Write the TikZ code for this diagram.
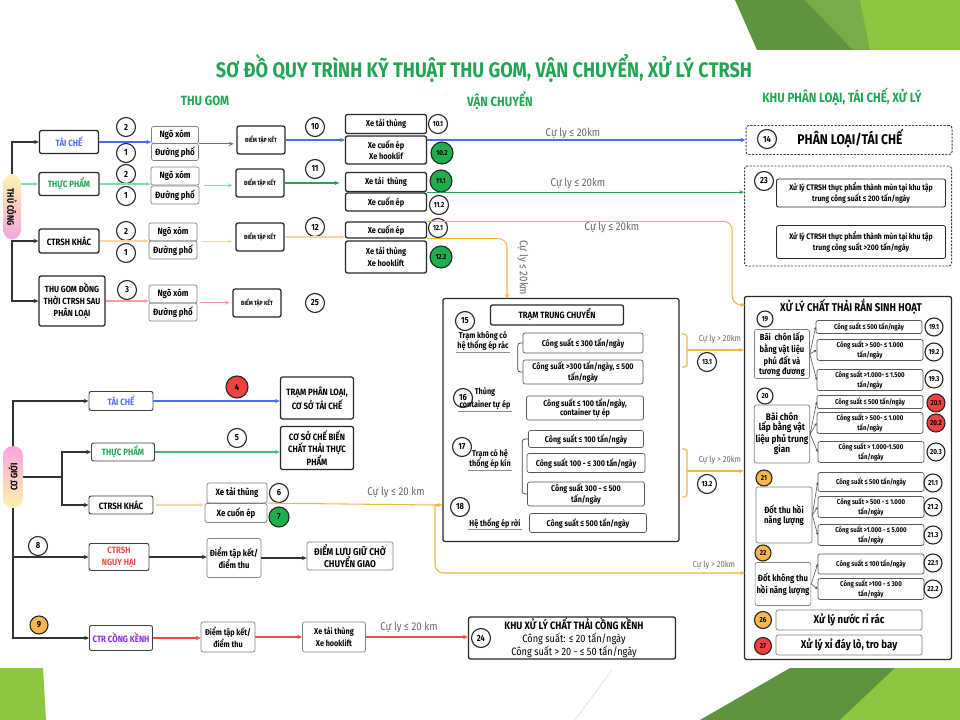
\documentclass[tikz,border=0pt]{standalone}
\usepackage{fontspec}
\setmainfont{Fira Sans}[FakeStretch=0.86]
\usetikzlibrary{arrows.meta}

% colours
\definecolor{titlegreen}{HTML}{22A552}
\definecolor{cblue}{HTML}{4F6BEE}
\definecolor{cmint}{HTML}{7EE2B0}
\definecolor{cgreen}{HTML}{23A452}
\definecolor{clor}{HTML}{F8D4A8}
\definecolor{corange}{HTML}{F6B541}
\definecolor{cpink}{HTML}{F2A2A2}
\definecolor{cred}{HTML}{EF4B4B}
\definecolor{fgreen}{HTML}{1DAE4D}
\definecolor{fred}{HTML}{EE4141}
\definecolor{forange}{HTML}{F8B74C}
\definecolor{cpurple}{HTML}{8A2BE2}
\definecolor{pillP}{HTML}{F7A5DE}
\definecolor{pillY}{HTML}{FFF2AE}
\definecolor{leafD}{HTML}{5E9440}
\definecolor{leafM}{HTML}{79AC48}
\definecolor{leafL}{HTML}{8DC63F}

\tikzset{
  box/.style={draw=black!85, line width=0.9pt, rounded corners=1.5pt, align=center,
    inner sep=1pt, font=\bfseries\fontsize{6.5}{7.6}\selectfont},
  sbox/.style={box, draw=black!50, line width=0.5pt},
  dbox/.style={draw=black!75, line width=0.7pt, dash pattern=on 1.5pt off 1pt,
    rounded corners=2pt},
  wd/.style={minimum width=#1*0.025cm},
  ht/.style={minimum height=#1*0.025cm},
  num/.style={circle, draw=black!85, line width=0.8pt, minimum size=#1*0.025cm,
    inner sep=0pt, font=\bfseries\fontsize{6.3}{7}\selectfont},
  num/.default=19,
  gnum/.style={num=#1, fill=fgreen},
  gnum/.default=22,
  rnum/.style={num=#1, fill=fred},
  rnum/.default=20,
  onum/.style={num=#1, fill=forange},
  onum/.default=18,
  dec/.style={font=\bfseries\fontsize{5.2}{6}\selectfont},
  tk/.style={box, wd=48, ht=28, font=\bfseries\fontsize{4.3}{5}\selectfont},
  vbox/.style={box, wd=81, font=\bfseries\fontsize{6.1}{8}\selectfont},
  csb/.style={sbox, draw=black!65, font=\bfseries\fontsize{5.9}{6.8}\selectfont},
  xsb/.style={sbox, draw=black!65, wd=106, font=\bfseries\fontsize{5}{5.6}\selectfont},
  txt/.style={align=center, inner sep=1pt, font=\bfseries\fontsize{6}{7.4}\selectfont},
  hdr/.style={text=titlegreen, font=\bfseries\fontsize{9.5}{10}\selectfont},
  lbl/.style={inner sep=0pt, text=black!60, font=\fontsize{8}{9}\selectfont},
  slbl/.style={lbl, font=\fontsize{6.2}{7}\selectfont},
  pill/.style={rounded corners=7pt, inner sep=0pt, font=\bfseries\fontsize{6.6}{7}\selectfont},
  ln/.style={line width=0.75pt},
  arr/.style={ln, -{Stealth[length=3.4pt, width=3pt]}},
  dk/.style={draw=black!80},
  ul/.style={draw=black!45, line width=0.5pt},
  fan/.style={draw=black!70, line width=0.4pt, -{Stealth[length=2pt, width=1.8pt]}},
  brk/.style={draw=black!75, line width=0.5pt, rounded corners=2pt},
}

\begin{document}
\begin{tikzpicture}[x=0.025cm, y=-0.025cm]
\useasboundingbox (0,0) rectangle (960,720);

% slide decoration
\fill[leafD] (735,0) -- (960,0) -- (960,50) -- (757,50) -- cycle;
\fill[leafM] (805,0) -- (960,0) -- (960,50) -- (853,50) -- cycle;
\fill[leafL] (860,0) -- (960,0) -- (960,50) -- (870,50) -- cycle;
\fill[leafL] (0,668) -- (43,668) -- (46,720) -- (0,720) -- cycle;
\fill[leafD] (700,720) -- (790,668) -- (960,668) -- (960,720) -- cycle;
\fill[leafL] (840,720) -- (895,668) -- (960,668) -- (960,720) -- cycle;
\draw[black!15, line width=0.4pt] (575,720) -- (612,670);

% headings
\node[text=titlegreen, font=\bfseries\fontsize{15}{16}\selectfont] (title) at (484,68)
  {SƠ ĐỒ QUY TRÌNH KỸ THUẬT THU GOM, VẬN CHUYỂN, XỬ LÝ CTRSH};
\node[hdr] (hThu) at (205,101) {THU GOM};
\node[hdr] (hVan) at (500,101) {VẬN CHUYỂN};
\node[hdr] (hKhu) at (842,97) {KHU PHÂN LOẠI, TÁI CHẾ, XỬ LÝ};

% thu cong
\node[pill, wd=18, ht=65, top color=pillY, bottom color=pillP] (tc) at (12,207) {\rotatebox{-90}{THỦ CÔNG}};
\node[box, wd=59, ht=23, text=cblue] (tc1) at (69,142) {TÁI CHẾ};
\node[box, wd=60, ht=23, text=cgreen] (tc2) at (69,184) {THỰC PHẨM};
\node[box, wd=60, ht=24] (tc3) at (69,241) {CTRSH KHÁC};
\node[box, wd=66, ht=50, font=\bfseries\fontsize{6.3}{8.4}\selectfont] (tc4) at (72,301) {THU GOM ĐỒNG\\THỜI CTRSH SAU\\PHÂN LOẠI};

\node[num] (n1a) at (126,127) {2};
\node[num] (n1b) at (126,153) {1};
\node[num] (n2a) at (126,174) {2};
\node[num] (n2b) at (126,196) {1};
\node[num] (n3a) at (126,231) {2};
\node[num] (n3b) at (126,253) {1};
\node[num] (n4a) at (127,290) {3};

\node[sbox, wd=47, ht=17] (nx1a) at (175,135) {Ngõ xóm};
\node[sbox, wd=47, ht=17] (nx1b) at (175,152) {Đường phố};
\node[sbox, wd=48, ht=18] (nx2a) at (175,176) {Ngõ xóm};
\node[sbox, wd=48, ht=18] (nx2b) at (175,195) {Đường phố};
\node[sbox, wd=48, ht=18] (nx3a) at (173,232) {Ngõ xóm};
\node[sbox, wd=48, ht=18] (nx3b) at (173,250) {Đường phố};
\node[sbox, wd=48, ht=18] (nx4a) at (173,294) {Ngõ xóm};
\node[sbox, wd=48, ht=18] (nx4b) at (173,312) {Đường phố};

\node[tk] (dk1) at (261,140) {ĐIỂM TẬP KẾT};
\node[tk] (dk2) at (260,183) {ĐIỂM TẬP KẾT};
\node[tk] (dk3) at (260,237) {ĐIỂM TẬP KẾT};
\node[tk] (dk4) at (257,303) {ĐIỂM TẬP KẾT};

\node[num] (n10) at (315,127) {10};
\node[num] (n11) at (315,169) {11};
\node[num] (n12) at (315,227) {12};
\node[num] (n25) at (315,303) {25};

\draw[dk, arr] (tc.north) |- (tc1.west);
\draw[cmint, arr] (tc.east |- tc2.west) -- (tc2.west);
\draw[dk, arr] (tc.south) |- (tc3.west);
\draw[dk, arr] (tc.south) |- (tc4.west);
\draw[cblue, arr] (tc1.east) -- (tc1.east -| nx1a.west);
\draw[cmint, arr] (tc2.east) -- (tc2.east -| nx2a.west);
\draw[clor, arr] (tc3.east) -- (tc3.east -| nx3a.west);
\draw[cpink, arr] (tc4.east) -- (tc4.east -| nx4a.west);
\draw[cblue, arr, shorten >=2pt] (nx1a.south east) -- (nx1a.south east -| dk1.west);
\draw[cmint, arr, shorten <=3pt, shorten >=2pt] (nx2a.south east) -- (nx2a.south east -| dk2.west);
\draw[clor, arr, shorten <=3pt, shorten >=2pt] (nx3a.south east) -- (nx3a.south east -| dk3.west);
\draw[cpink, arr, shorten <=2pt, shorten >=2pt] (nx4b.north east) -- (nx4b.north east -| dk4.west);

% van chuyen
\node[vbox, ht=19] (v101) at (386,124) {Xe tải thùng};
\node[vbox, ht=28] (v102) at (386,150) {Xe cuốn ép\\Xe hooklif};
\node[vbox, ht=19] (v111) at (386,182) {Xe tải~ thùng};
\node[vbox, ht=18] (v112) at (386,202) {Xe cuốn ép};
\node[vbox, ht=16] (v121) at (386,230) {Xe cuốn ép};
\node[vbox, ht=32] (v122) at (386,257) {Xe tải thùng\\Xe hooklift};

\node[num, dec] (c101) at (438,124) {10.1};
\node[gnum, dec] (c102) at (442,153) {10.2};
\node[gnum, dec] (c111) at (441,181) {11.1};
\node[num, dec] (c112) at (439,205) {11.2};
\node[num, dec] (c121) at (438,228) {12.1};
\node[gnum, dec] (c122) at (441,257) {12.2};

\draw[cblue, arr] (dk1.east) -- (dk1.east -| v102.west);
\draw[cgreen, arr, shorten >=4pt] (dk2.east) -- (dk2.east -| v111.west);
\draw[clor, arr] (dk3.east) -- (dk3.east -| v122.west);

% phan loai / tai che
\node[dbox, wd=206, ht=29] (p14) at (849,140) {};
\node[num] (c14) at (767,139) {14};
\node[font=\bfseries\fontsize{10}{11}\selectfont] (t14) at (850,139) {PHÂN LOẠI/TÁI CHẾ};
\node[dbox, wd=207, ht=100] (p23) at (848,216) {};
\node[num] (c23) at (764,181) {23};
\node[box, line width=0.6pt, wd=169, ht=28, font=\bfseries\fontsize{5.7}{8}\selectfont] (f1) at (861,193)
  {Xử lý CTRSH thực phẩm thành mùn tại khu tập\\trung công suất ≤ 200 tấn/ngày};
\node[box, line width=0.6pt, wd=169, ht=33, font=\bfseries\fontsize{5.7}{8}\selectfont] (f2) at (861,242)
  {Xử lý CTRSH thực phẩm thành mùn tại khu tập\\trung công suất >200 tấn/ngày};

% tram trung chuyen
\node[box, wd=236, ht=243] (tr) at (561,420) {};
\coordinate (trIn) at (507,299);
\node[box, wd=133, ht=20] (trT) at (557,315) {TRẠM TRUNG CHUYỂN};
\node[num] (c15) at (465,321) {15};
\node[txt] (t15) at (483,341) {Trạm không có\\hệ thống ép rác};
\node[csb, wd=120, ht=20] (s1) at (583,343) {Công suất ≤ 300 tấn/ngày};
\node[csb, wd=120, ht=24] (s2) at (583,372) {Công suất >300 tấn/ngày, ≤ 500\\tấn/ngày};
\node[num] (c16) at (463,398) {16};
\node[txt] (t16a) at (485,392) {Thùng};
\node[txt] (t16b) at (485,405) {container tự ép};
\node[csb, wd=117, ht=24] (s3) at (585,408) {Công suất ≤ 100 tấn/ngày,\\container tự ép};
\node[num] (c17) at (462,447) {17};
\node[txt] (t17) at (490,459) {Trạm có hệ\\thống ép kín};
\node[csb, wd=115, ht=17] (s4) at (586,439) {Công suất ≤ 100 tấn/ngày};
\node[csb, wd=118, ht=19] (s5) at (586,463) {Công suất 100 - ≤ 300 tấn/ngày};
\node[csb, wd=117, ht=24] (s6) at (586,494) {Công suất 300 - ≤ 500\\tấn/ngày};
\node[num] (c18) at (460,507) {18};
\node[txt] (t18) at (495,523) {Hệ thống ép rời};
\node[csb, wd=117, ht=19] (s7) at (588,523) {Công suất ≤ 500 tấn/ngày};

\draw[ul] (t15.south west) -- (t15.south east);
\draw[ul] (t16b.south west) -- (t16b.south east);
\draw[ul] (t17.south west) -- (t17.south east);
\draw[ul] (t18.south west) -- (t18.south east);
\draw[brk] (s1.west) -- ++(-5,0) |- (s2.west);
\draw[brk] (s4.west) -- ++(-6,0) |- (s6.west);

% xu ly chat thai ran sinh hoat
\node[box, wd=207, ht=363] (xl) at (848,478) {};
\node[font=\bfseries\fontsize{8}{9}\selectfont] (xlT) at (851,307) {XỬ LÝ CHẤT THẢI RẮN SINH HOẠT};

\node[num=16, dec] (c19) at (765,319) {19};
\node[sbox, wd=55, ht=49, font=\bfseries\fontsize{6.3}{6.8}\selectfont] (b19) at (782,354) {Bãi~ chôn lấp\\bằng vật liệu\\phủ đất và\\tương đương};
\node[xsb, ht=13] (x191) at (869,327) {Công suất ≤ 500 tấn/ngày};
\node[xsb, ht=19] (x192) at (870,350) {Công suất > 500- ≤ 1.000\\tấn/ngày};
\node[xsb, ht=21] (x193) at (870,380) {Công suất >1.000- ≤ 1.500\\tấn/ngày};
\node[num=18, dec] (c191) at (934,327) {19.1};
\node[num=18, dec] (c192) at (934,352) {19.2};
\node[num=18, dec] (c193) at (934,379) {19.3};

\node[num=16, dec] (c20) at (765,396) {20};
\node[sbox, wd=55, ht=58, font=\bfseries\fontsize{6.8}{7.2}\selectfont] (b20) at (782,434) {Bãi chôn\\lấp bằng vật\\liệu phủ trung\\gian};
\node[xsb, ht=13] (x201) at (870,402) {Công suất ≤ 500 tấn/ngày};
\node[xsb, ht=20] (x202) at (870,423) {Công suất > 500- ≤ 1.000\\tấn/ngày};
\node[xsb, ht=20] (x203) at (871,452) {Công suất > 1.000-1.500\\tấn/ngày};
\node[rnum=18, dec] (c201) at (936,403) {20.1};
\node[rnum=18, dec] (c202) at (936,423) {20.2};
\node[num=18, dec] (c203) at (936,452) {20.3};

\node[onum=16, dec] (c21) at (764,478) {21};
\node[sbox, wd=56, ht=56, font=\bfseries\fontsize{6.4}{7.4}\selectfont] (b21) at (784,515) {Đốt thu hồi\\năng lượng};
\node[xsb, ht=19] (x211) at (871,482) {Công suất ≤ 500 tấn/ngày};
\node[xsb, ht=20] (x212) at (871,507) {Công suất > 500 - ≤ 1.000\\tấn/ngày};
\node[xsb, ht=20] (x213) at (871,535) {Công suất >1.000 - ≤ 5.000\\tấn/ngày};
\node[num=18, dec] (c211) at (933,483) {21.1};
\node[num=18, dec] (c212) at (933,507) {21.2};
\node[num=18, dec] (c213) at (933,535) {21.3};

\node[onum=16, dec] (c22) at (763,553) {22};
\node[sbox, wd=55, ht=43, font=\bfseries\fontsize{6.4}{7.4}\selectfont] (b22) at (783,584) {Đốt không thu\\hồi năng lượng};
\node[xsb, ht=20] (x221) at (871,564) {Công suất ≤ 100 tấn/ngày};
\node[xsb, ht=20] (x222) at (871,589) {Công suất >100 - ≤ 300\\tấn/ngày};
\node[num=18, dec] (c221) at (933,563) {22.1};
\node[num=18, dec] (c222) at (933,589) {22.2};

\node[onum=17, dec] (c26) at (763,620) {26};
\node[sbox, wd=146, ht=20, font=\bfseries\fontsize{8}{9}\selectfont] (r26) at (849,620) {Xử lý nước rỉ rác};
\node[rnum=17, dec] (c27) at (763,646) {27};
\node[sbox, wd=146, ht=20, font=\bfseries\fontsize{8}{9}\selectfont] (r27) at (849,645) {Xử lý xỉ đáy lò, tro bay};

\foreach \s in {x191,x192,x193} \draw[fan] (b19.east) -- (\s.west);
\foreach \s in {x201,x202,x203} \draw[fan] (b20.east) -- (\s.west);
\foreach \s in {x211,x212,x213} \draw[fan] (b21.east) -- (\s.west);
\foreach \s in {x221,x222} \draw[fan] (b22.east) -- (\s.west);

% long transport lines
\draw[cblue, arr] (v102.east |- p14.west) -- (p14.west);
\node[lbl] (d1) at (573,133) {Cự ly ≤ 20km};
\draw[cgreen, arr] (v111.south east) -- (v111.south east -| p23.west);
\node[lbl] (d2) at (578,183) {Cự ly ≤ 20km};
\coordinate (xlIn1) at (745,305);
\draw[corange, arr, rounded corners=6pt] (v121.north east) -- ++(305,0) -- ++(0,83) -- (xlIn1);
\node[lbl] (d3) at (612,227) {Cự ly ≤ 20km};
\draw[corange, arr, rounded corners=6pt] (v121.south east) -| (trIn);
\node[lbl, rotate=-90] (d4) at (523,268) {Cự ly ≤ 20km};

\coordinate (br1) at (687,350);
\coordinate (br2) at (687,471);
\draw[corange, ln, rounded corners=2pt] (682,334) -- (687,334) -- (687,367) -- (682,367);
\draw[corange, ln, rounded corners=2pt] (682,449) -- (687,449) -- (687,497) -- (682,497);
\draw[corange, arr] (br1) -- (br1 -| xl.west);
\draw[corange, arr] (br2) -- (br2 -| xl.west);
\node[slbl] (d5) at (720,339) {Cự ly > 20km};
\node[slbl] (d6) at (720,460) {Cự ly > 20km};
\node[num, dec] (c131) at (707,362) {13.1};
\node[num, dec] (c132) at (707,484) {13.2};

% co gioi
\node[pill, wd=20, ht=62, top color=pillP, bottom color=pillY] (cg) at (13,477) {\rotatebox{90}{CƠ GIỚI}};
\node[box, draw=black!75, line width=0.7pt, wd=64, ht=19, text=cblue] (cg1) at (121,401) {TÁI CHẾ};
\node[box, draw=black!75, line width=0.7pt, wd=63, ht=18, text=cgreen] (cg2) at (123,452) {THỰC PHẨM};
\node[box, draw=black!75, line width=0.7pt, wd=64, ht=18] (cg3) at (121,505) {CTRSH KHÁC};
\node[box, draw=black!75, line width=0.7pt, wd=60, ht=27, text=cred, font=\bfseries\fontsize{6.5}{8.5}\selectfont] (cg4) at (119,557) {CTRSH\\NGUY HẠI};
\node[box, draw=black!75, line width=0.7pt, wd=63, ht=25, text=cpurple] (cg5) at (121,638) {CTR CỒNG KỀNH};

\node[box, wd=73, ht=42, font=\bfseries\fontsize{6.5}{8.6}\selectfont] (cgT1) at (317,398) {TRẠM PHÂN LOẠI,\\CƠ SỞ TÁI CHẾ};
\node[box, wd=73, ht=43, font=\bfseries\fontsize{6.5}{8.8}\selectfont] (cgT2) at (317,448) {CƠ SỞ CHẾ BIẾN\\CHẤT THẢI THỰC\\PHẨM};
\node[rnum=22] (c4) at (237,387) {4};
\node[num] (c5) at (237,438) {5};
\node[sbox, wd=60, ht=20] (cgX1) at (237,493) {Xe tải thùng};
\node[sbox, wd=62, ht=19] (cgX2) at (236,513) {Xe cuốn ép};
\node[num] (c6) at (279,493) {6};
\node[gnum=20] (c7) at (279,517) {7};
\node[num] (c8) at (38,546) {8};
\node[sbox, wd=54, ht=39, font=\bfseries\fontsize{6.3}{8.4}\selectfont] (cgD) at (234,558) {Điểm tập kết/\\điểm thu};
\node[sbox, wd=86, ht=28, font=\bfseries\fontsize{7}{8.6}\selectfont] (cgL) at (350,556) {ĐIỂM LƯU GIỮ CHỜ\\CHUYỂN GIAO};
\node[onum] (c9) at (39,625) {9};
\node[sbox, wd=54, ht=30, font=\bfseries\fontsize{6}{8.4}\selectfont] (cgD2) at (228,637) {Điểm tập kết/\\điểm thu};
\node[sbox, wd=63, ht=30, font=\bfseries\fontsize{6}{8.4}\selectfont] (cgX3) at (334,637) {Xe tải thùng\\Xe hooklift};
\node[box, wd=207, ht=42] (kx) at (572,638) {};
\node[num] (c24) at (481,638) {24};
\node[align=center, inner sep=0pt, font=\fontsize{7.6}{9.4}\selectfont] (kxT) at (574,638)
  {\textbf{KHU XỬ LÝ CHẤT THẢI CỒNG KỀNH}\\Công suất: ≤ 20 tấn/ngày\\Công suất > 20 - ≤ 50 tấn/ngày};

\coordinate (cgJ) at (62,477);
\draw[dk, arr] (cg.north) |- (cg1.west);
\draw[dk, ln] (cg.east) -- (cgJ);
\draw[dk, arr] (cgJ) |- (cg2.west);
\draw[dk, arr] (cgJ) |- (cg3.west);
\draw[dk, arr] (cg.south) |- (cg4.west);
\draw[dk, arr] (cg.south) |- (cg5.west);
\draw[cblue, arr] (cg1.east) -- (cg1.east -| cgT1.west);
\draw[cgreen!80, arr] (cg2.east) -- (cg2.east -| cgT2.west);
\draw[clor, arr, shorten <=2pt, shorten >=2pt] (cg3.east) -- (cg3.east -| cgX1.west);
\draw[dk, arr] (cg4.east) -- (cg4.east -| cgD.west);
\draw[dk, arr] (cgD.east) -- (cgD.east -| cgL.west);
\draw[cred, arr] (cg5.east) -- (cg5.east -| cgD2.west);
\draw[cred, arr] (cgD2.east) -- (cgD2.east -| cgX3.west);
\draw[cred, arr] (cgX3.east) -- (cgX3.east -| kx.west);
\node[lbl] (d8) at (409,627) {Cự ly ≤ 20 km};

\coordinate (jn) at (435,505);
\coordinate (xlIn3) at (745,573);
\draw[corange, ln] (cgX2.north east) -- (jn);
\draw[corange, arr] (jn) -- (jn -| tr.west);
\draw[corange, arr, rounded corners=6pt] (jn) |- (xlIn3);
\node[lbl] (d7) at (396,492) {Cự ly ≤ 20 km};
\node[slbl] (d9) at (714,565) {Cự ly > 20km};
\end{tikzpicture}
\end{document}
